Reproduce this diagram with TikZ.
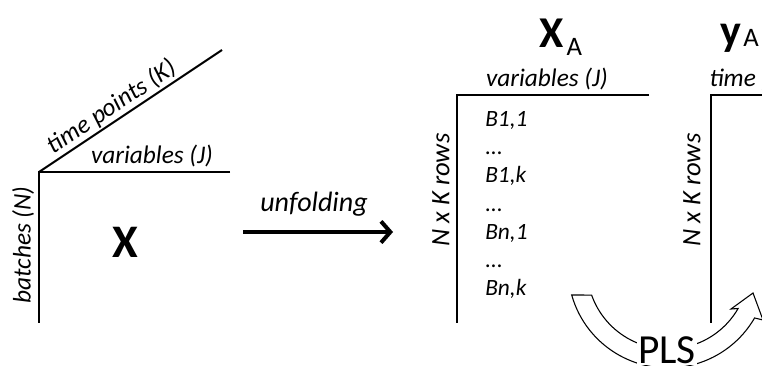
\documentclass[tikz,border=0pt]{standalone}
\usepackage{fontspec}
\setmainfont{Carlito}
\usetikzlibrary{arrows.meta}
\tikzset{
  axisline/.style={line width=1.5pt},
  lbl/.style={font=\fontsize{19}{22}\selectfont\itshape, inner sep=1pt},
  bigsym/.style={font=\fontsize{35}{40}\selectfont\bfseries, inner sep=0pt},
  subsym/.style={font=\fontsize{20}{22}\selectfont, inner sep=0pt},
}
\begin{document}
\begin{tikzpicture}[x=0.75pt,y=-0.75pt]
    \useasboundingbox (0,0) rectangle (762,365);
    \clip (0,0) rectangle (762,365);
    % the three-way array X
    \coordinate (o) at (39,172);
    \coordinate (j) at (230,172);
    \coordinate (k) at (222,50);
    \coordinate (n) at (39,323);
    \draw[axisline] (j) -- (o) -- (n);
    \draw[axisline] (o) -- (k) node[lbl,pos=0.44,sloped,above] (tpts) {time points (K)};
    \node[lbl,anchor=south] (varj) at (152,169) {variables (J)};
    \node[lbl,rotate=90] (bat) at (23,245) {batches (N)};
    \node[bigsym] (x) at (125,242) {X};
    % unfolding arrow
    \coordinate (u1) at (243,232);
    \coordinate (u2) at (393,232);
    \draw[line width=3pt,-{Straight Barb[length=7pt,width=16pt]}] (u1) -- (u2);
    \node[lbl,font=\fontsize{21}{24}\selectfont\itshape] (unf) at (314,204) {unfolding};
    % the unfolded matrix X_A
    \coordinate (a0) at (457,95);
    \coordinate (a1) at (649,95);
    \coordinate (a2) at (457,323);
    \draw[axisline] (a1) -- (a0) -- (a2);
    \node[bigsym,font=\fontsize{33}{36}\selectfont\bfseries] (xa) at (552,33) {X};
    \node[subsym,anchor=base west] (xasub) at ([xshift=1.5pt,yshift=-6pt]xa.base east) {A};
    \node[lbl,anchor=south] (varja) at (547,92) {variables (J)};
    \node[lbl,rotate=90,font=\fontsize{20}{22}\selectfont\itshape] (rowsa) at (441,190) {N x K rows};
    \node[font=\fontsize{17.5}{21.2}\selectfont\itshape, align=left, anchor=north west, inner sep=0pt] (rows) at (485,111)
        {B1,1\\...\\B1,k\\...\\Bn,1\\...\\Bn,k};
    % the response matrix y_A
    \coordinate (b0) at (711,95);
    \coordinate (b1) at (800,95);
    \coordinate (b2) at (711,323);
    \draw[axisline] (b1) -- (b0) -- (b2);
    \node[bigsym,font=\fontsize{33}{36}\selectfont\bfseries,anchor=base] (ya) at (731,45) {y};
    \node[subsym,anchor=base west] (yasub) at ([xshift=1pt,yshift=-1pt]ya.base east) {A};
    \node[lbl,anchor=south west] (timeb) at (708,92) {time points (K)};
    \node[lbl,rotate=90,font=\fontsize{20}{22}\selectfont\itshape] (rowsb) at (692,190) {N x K rows};
    % PLS block arrow
    \draw[fill=white,line width=0.8pt] (571.7,295)
        arc[start angle=164.3,end angle=30,radius=100]
        -- (763,320) -- (753,293) -- (731,309) -- (738.1,308.5)
        arc[start angle=30,end angle=160.5,radius=81] -- cycle;
    \node[fill=white,inner sep=1pt,font=\fontsize{31}{34}\selectfont] (pls) at (667,350) {PLS};
\end{tikzpicture}
\end{document}
